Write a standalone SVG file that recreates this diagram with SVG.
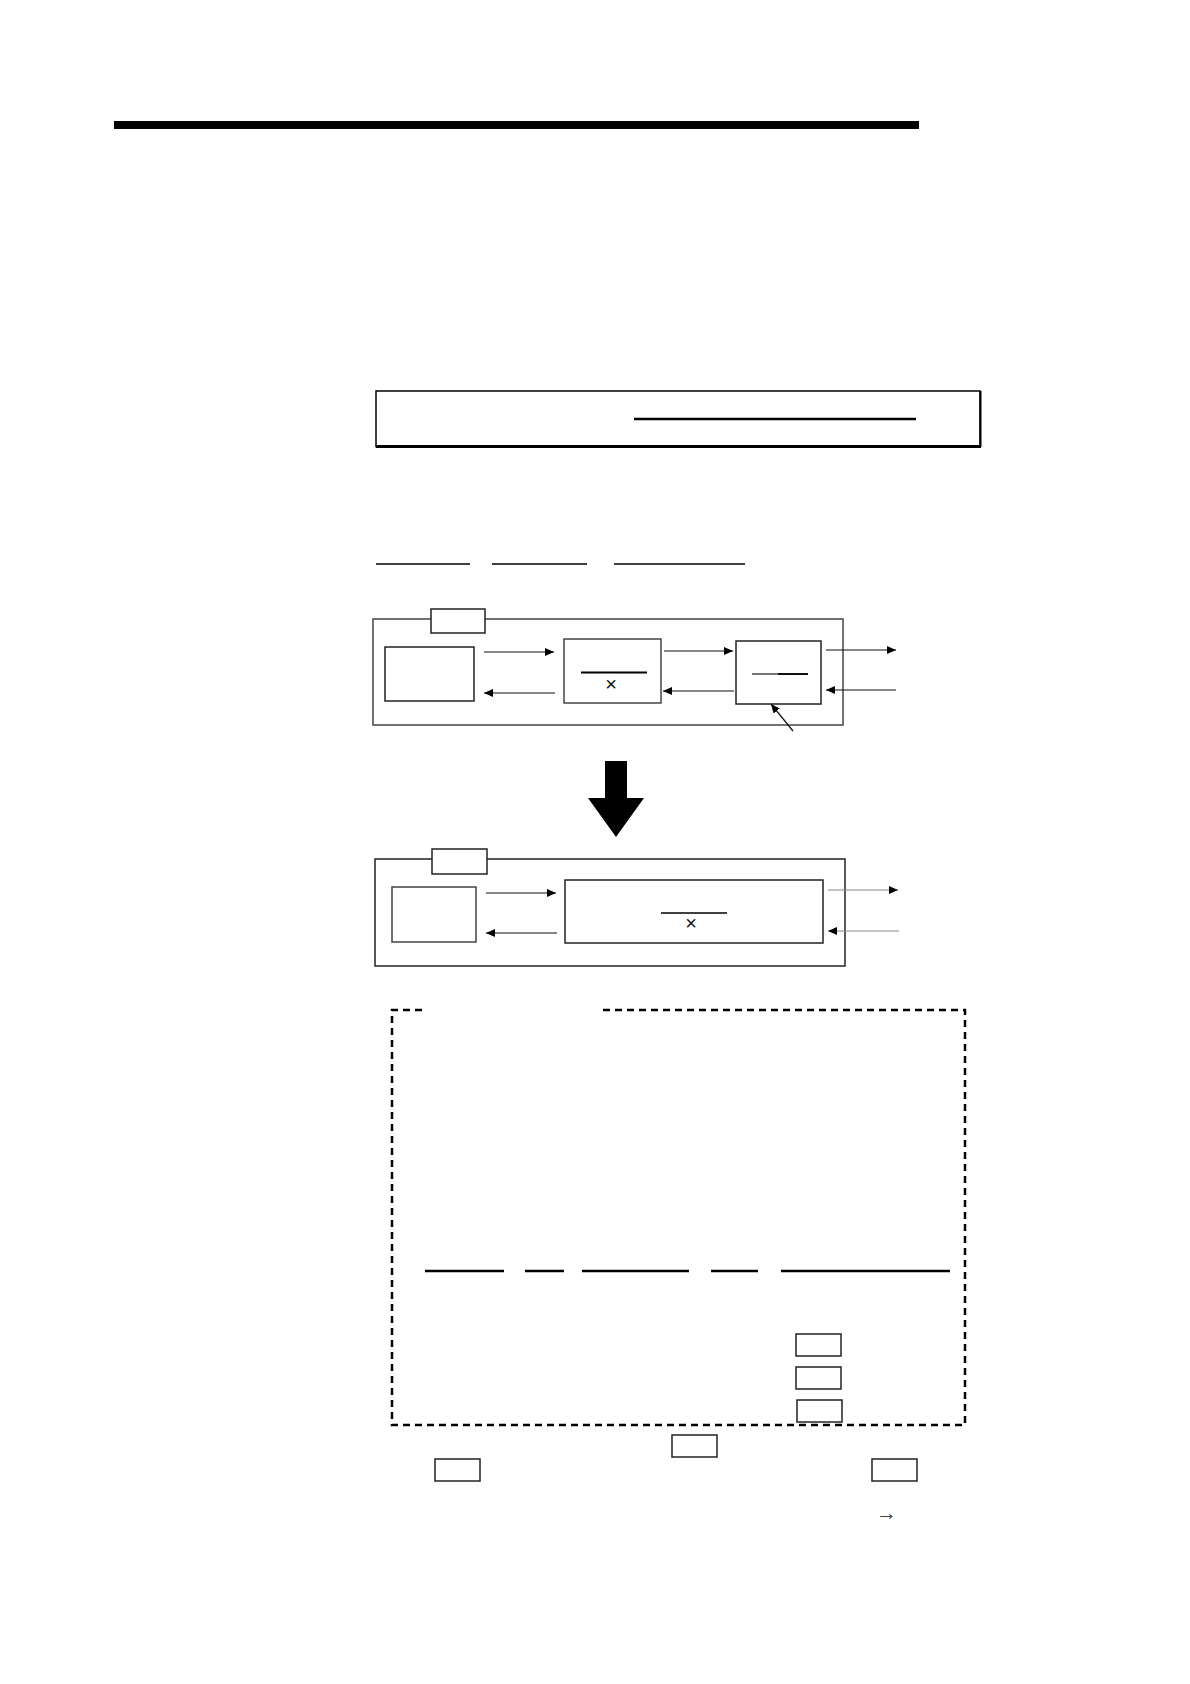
<svg xmlns="http://www.w3.org/2000/svg" width="1190" height="1684" viewBox="0 0 1190 1684">
<style>
.box{fill:#fff;stroke:#222;stroke-width:1.5}
.gbox{fill:#fff;stroke:#444;stroke-width:1.5}
.conn{stroke:#111;stroke-width:1.2;fill:none}
.gconn{stroke:#888;stroke-width:1.2;fill:none}
.rule{stroke:#000;stroke-width:1.6}
.thick{stroke:#000;stroke-width:2.4}
.sym{font-family:"Liberation Sans",Arial,sans-serif;font-size:20px;fill:#111;text-anchor:middle}
</style>
<defs>
<marker id="ah" markerUnits="userSpaceOnUse" markerWidth="10" markerHeight="8" refX="9" refY="4" orient="auto">
<path d="M0,0 L9,4 L0,8 z" fill="#000"/>
</marker>
</defs>
<rect width="1190" height="1684" fill="#fff"/>
<rect id="topbar" x="114" y="121" width="805" height="8" fill="#000"/>
<g id="title-box">
<rect x="376" y="391" width="604" height="55.5" fill="none" stroke="#000" stroke-width="1.5"/>
<line x1="376" y1="446.5" x2="981" y2="446.5" stroke="#000" stroke-width="3"/>
<line x1="980.5" y1="391" x2="980.5" y2="447" stroke="#000" stroke-width="2"/>
<line x1="634" y1="419" x2="916" y2="419" class="thick"/>
</g>
<g id="underlines">
<line x1="376" y1="564" x2="470" y2="564" class="rule"/>
<line x1="492" y1="564" x2="587" y2="564" class="rule"/>
<line x1="614" y1="564" x2="745" y2="564" class="rule"/>
</g>
<g id="diagram1">
<rect id="d1-outer" x="373" y="619" width="470" height="106" class="gbox"/>
<rect id="d1-tab" x="431" y="609" width="54" height="24" class="box"/>
<rect id="d1-a" x="385" y="647" width="89" height="54" class="box"/>
<g id="d1-b">
<rect x="564" y="639" width="97" height="64" class="gbox"/>
<line x1="581" y1="672.5" x2="647" y2="672.5" stroke="#000" stroke-width="2"/>
<text x="611" y="691" class="sym">×</text>
</g>
<g id="d1-c">
<rect x="736" y="641" width="85" height="63" class="box"/>
<line x1="752" y1="674" x2="778" y2="674" stroke="#777" stroke-width="2"/>
<line x1="778" y1="674" x2="808" y2="674" stroke="#111" stroke-width="2"/>
</g>
</g>
<g id="connectors1">
<line x1="484" y1="652" x2="554" y2="652" class="conn" marker-end="url(#ah)"/>
<line x1="555" y1="693" x2="484" y2="693" class="conn" marker-end="url(#ah)"/>
<line x1="664" y1="651" x2="733" y2="651" class="conn" marker-end="url(#ah)"/>
<line x1="734" y1="691" x2="663" y2="691" class="conn" marker-end="url(#ah)"/>
<line x1="826" y1="650" x2="896" y2="650" class="conn" marker-end="url(#ah)"/>
<line x1="896" y1="690" x2="826" y2="690" class="conn" marker-end="url(#ah)"/>
<line x1="793" y1="731" x2="771" y2="704" class="conn" marker-end="url(#ah)"/>
</g>
<polygon id="bigarrow" points="605,761 627,761 627,798 644,798 616,837 588,798 605,798" fill="#000"/>
<g id="diagram2">
<rect id="d2-outer" x="375" y="859" width="470" height="107" class="box"/>
<rect id="d2-tab" x="432" y="849" width="55" height="25" class="box"/>
<rect id="d2-a" x="392" y="887" width="84" height="55" class="gbox"/>
<g id="d2-b">
<rect x="565" y="880" width="258" height="63" class="box"/>
<line x1="661" y1="913" x2="727" y2="913" stroke="#000" stroke-width="1.5"/>
<text x="691" y="930" class="sym">×</text>
</g>
</g>
<g id="connectors2">
<line x1="486" y1="893" x2="556" y2="893" class="conn" marker-end="url(#ah)"/>
<line x1="557" y1="933" x2="486" y2="933" class="conn" marker-end="url(#ah)"/>
<line x1="828" y1="890" x2="898" y2="890" class="gconn" marker-end="url(#ah)"/>
<line x1="899" y1="931" x2="828" y2="931" class="gconn" marker-end="url(#ah)"/>
</g>
<g id="note">
<path d="M422,1010 L392,1010 L392,1425 L965,1425 L965,1010 L598,1010" fill="none" stroke="#000" stroke-width="2.5" stroke-dasharray="7 5"/>
<line x1="425" y1="1271" x2="504" y2="1271" class="thick"/>
<line x1="525" y1="1271" x2="564" y2="1271" class="thick"/>
<line x1="582" y1="1271" x2="689" y2="1271" class="thick"/>
<line x1="711" y1="1271" x2="758" y2="1271" class="thick"/>
<line x1="781" y1="1271" x2="950" y2="1271" class="thick"/>
<rect id="k1" x="796" y="1334" width="45" height="22" class="box"/>
<rect id="k2" x="796" y="1367" width="45" height="22" class="box"/>
<rect id="k3" x="797" y="1400" width="45" height="22" class="box"/>
</g>
<rect id="k4" x="672" y="1435" width="45" height="22" class="box"/>
<rect id="k5" x="435" y="1459" width="45" height="22" class="box"/>
<rect id="k6" x="872" y="1459" width="45" height="22" class="box"/>
<text x="876" y="1520" font-family="Liberation Serif, serif" font-size="21" fill="#444">→</text>
</svg>
